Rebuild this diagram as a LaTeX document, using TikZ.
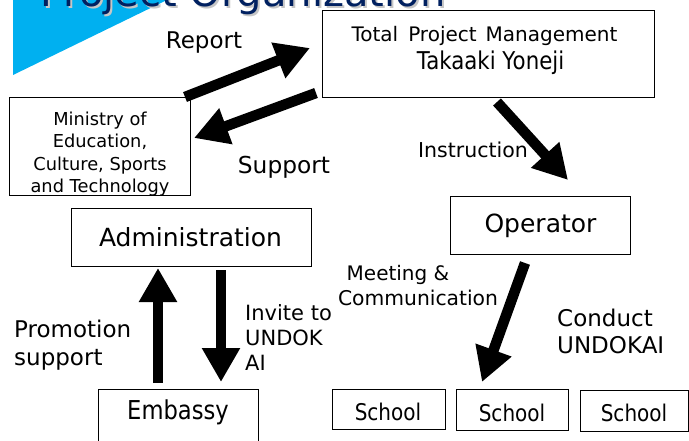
\documentclass[tikz,border=0pt]{standalone}
\usepackage{fontspec}
\setmainfont{DejaVu Sans}
\newfontfamily\narrowfont[FakeStretch=0.87]{DejaVu Sans}
\usetikzlibrary{arrows.meta}
\definecolor{titleblue}{RGB}{0,32,96}
\definecolor{tricyan}{RGB}{0,176,240}
\newcommand\fsz[1]{\fontsize{#1}{#1}\selectfont}
\begin{document}
\begin{tikzpicture}[x=1pt,y=-1pt,
  box/.style={draw=black, line width=0.9pt, rectangle, inner sep=0pt},
  lbl/.style={inner sep=0pt, anchor=base},
  lbll/.style={inner sep=0pt, anchor=base west},
  bigarrow/.style={line width=10.5pt, -{Triangle[width=36pt,length=34pt]}},
]
\useasboundingbox (0,0) rectangle (689,440);
\clip (0,0) rectangle (689,440);

% title decoration
\fill[tricyan] (13,0) -- (167,0) -- (13,75) -- cycle;
\node[lbll, text=gray!45] (titleshadow) at (42,8) {\fsz{40}Project Organization};
\node[lbll, text=titleblue] (title) at (40,6) {\fsz{40}Project Organization};

% boxes
\node[box, minimum width=332pt, minimum height=87pt] (tpm) at (488,53.5) {};
\node[box, minimum width=181pt, minimum height=98pt] (ministry) at (99.5,146) {};
\node[box, minimum width=240pt, minimum height=58pt] (admin) at (191,237) {};
\node[box, minimum width=180pt, minimum height=58pt] (operator) at (540,225) {};
\node[box, minimum width=160pt, minimum height=61pt] (embassy) at (178,419.5) {};
\node[box, minimum width=113pt, minimum height=40pt] (school1) at (388.5,409) {};
\node[box, minimum width=112pt, minimum height=41pt] (school2) at (512,409.5) {};
\node[box, minimum width=108pt, minimum height=41pt] (school3) at (634,410.5) {};

% box texts
\node[lbl] (tpmA) at (484.5,41) {\fsz{20}Total\hspace{10pt}Project\hspace{9pt}Management};
\node[lbl] (tpmB) at (490.5,69) {\narrowfont\fsz{24.5}Takaaki Yoneji};
\node[lbl] (min1) at (100,125) {\fsz{17.8}Ministry of};
\node[lbl] (min2) at (100,147.5) {\fsz{17.8}Education,};
\node[lbl] (min3) at (100,170) {\fsz{17.8}Culture, Sports};
\node[lbl] (min4) at (100,192) {\fsz{17.8}and Technology};
\node[lbl] (adminT) at (190.5,246) {\fsz{25}Administration};
\node[lbl] (operT) at (540.5,232.5) {\fsz{25}Operator};
\node[lbl] (embT) at (178,419) {\narrowfont\fsz{26}Embassy};
\node[lbl] (sch1T) at (388,420) {\narrowfont\fsz{23}School};
\node[lbl] (sch2T) at (512,421) {\narrowfont\fsz{23}School};
\node[lbl] (sch3T) at (634,421.5) {\narrowfont\fsz{23}School};

% arrows
\coordinate (repS) at (185,97);   \coordinate (repE) at (310,48);
\coordinate (supS) at (316,93);   \coordinate (supE) at (194,138);
\coordinate (insS) at (497,102);  \coordinate (insE) at (568,180);
\coordinate (meeS) at (525,263);  \coordinate (meeE) at (482,382);
\coordinate (proS) at (158,383);  \coordinate (proE) at (158,268);
\coordinate (invS) at (221,270);  \coordinate (invE) at (221,382);
\draw[bigarrow] (repS) -- (repE);
\draw[bigarrow] (supS) -- (supE);
\draw[bigarrow] (insS) -- (insE);
\draw[bigarrow] (meeS) -- (meeE);
\draw[bigarrow] (proS) -- (proE);
\draw[bigarrow] (invS) -- (invE);

% labels
\node[lbl] (reportL) at (204,48) {\fsz{23}Report};
\node[lbl] (supportL) at (284,173) {\fsz{23.3}Support};
\node[lbl] (instrL) at (473,157) {\fsz{20.5}Instruction};
\node[lbl] (meetL1) at (398,280) {\fsz{20}Meeting \&};
\node[lbl] (meetL2) at (418,305) {\fsz{20.3}Communication};
\node[lbll] (invL1) at (245,320) {\fsz{21}Invite to};
\node[lbll] (invL2) at (245,345) {\fsz{21}UNDOK};
\node[lbll] (invL3) at (245,370) {\fsz{21}AI};
\node[lbll] (proL1) at (14,337) {\fsz{23}Promotion};
\node[lbll] (proL2) at (14,365) {\fsz{23}support};
\node[lbll] (conL1) at (557,326) {\fsz{23}Conduct};
\node[lbll] (conL2) at (557,353) {\fsz{23}UNDOKAI};
\end{tikzpicture}
\end{document}
